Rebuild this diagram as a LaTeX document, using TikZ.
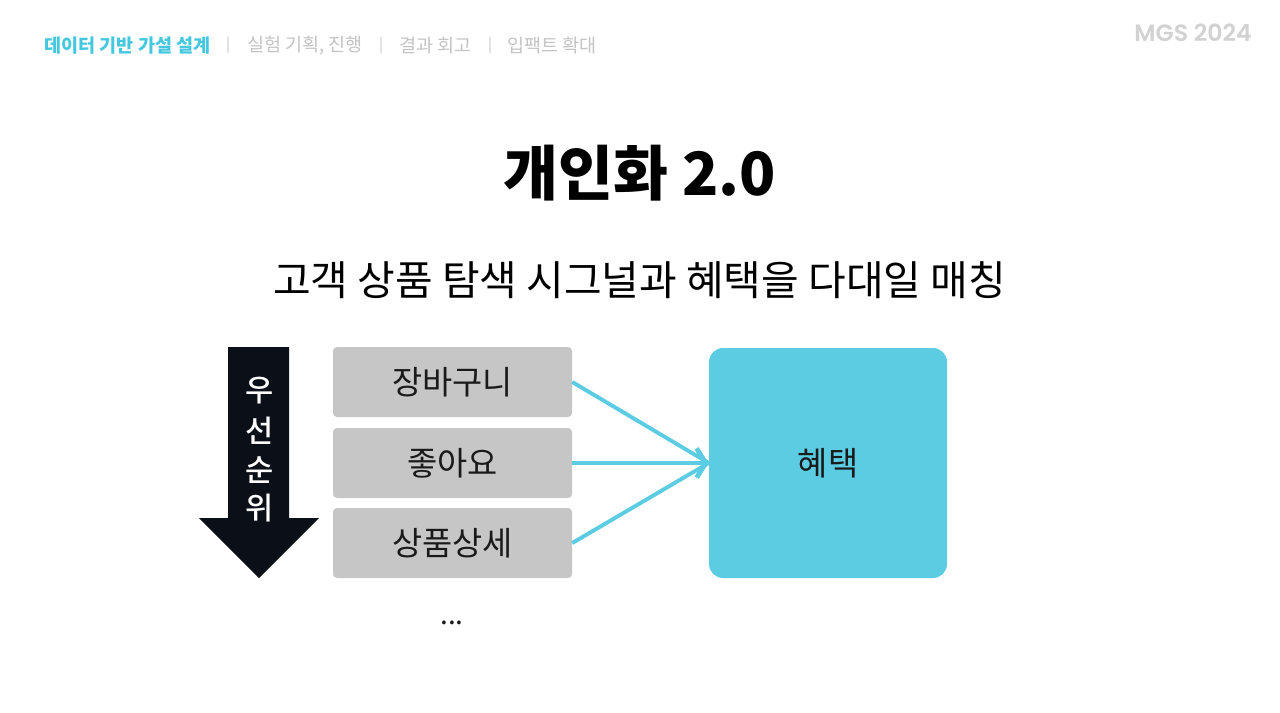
\documentclass[tikz,border=0pt]{standalone}
\usepackage{fontspec}
\setmainfont{Noto Sans CJK KR}
\newfontfamily\logofont{Poppins SemiBold}
\newfontfamily\medfont{Noto Sans CJK KR Medium}
\usetikzlibrary{arrows.meta}
\definecolor{cyanmain}{HTML}{5BCCE2}
\definecolor{cyantext}{HTML}{45C8DF}
\definecolor{greybox}{HTML}{C6C6C6}
\definecolor{greytext}{HTML}{C4C4C4}
\definecolor{logogrey}{HTML}{D2D2D2}
\definecolor{darkarrow}{HTML}{0B0F17}
\definecolor{inktext}{HTML}{1A1A1A}
\tikzset{
  navtext/.style={inner sep=0pt,anchor=west,font=\fontsize{13.9pt}{16pt}\selectfont,text=greytext},
  sepbar/.style={inner sep=0pt,font=\fontsize{11pt}{14pt}\selectfont,text=greytext},
  signal/.style={draw=none,fill=greybox,rounded corners=3pt,minimum width=179.25pt,minimum height=52.5pt,inner sep=0pt,text=inktext,font=\fontsize{24.6pt}{28pt}\selectfont},
  vchar/.style={inner sep=0pt,text=white,font=\medfont\fontsize{23pt}{26pt}\selectfont},
  link/.style={draw=cyanmain,line width=2.9pt},
  linktip/.style={link,-{Straight Barb[length=7pt,width=22pt,line width=3.6pt]}}
}
\begin{document}
\begin{tikzpicture}[x=0.75pt,y=-0.75pt]
\useasboundingbox (0,0) rectangle (1280,713);
\fill[white] (0,0) rectangle (1280,713);
% header
\node[navtext,text=cyantext,font=\fontsize{13.9pt}{16pt}\selectfont\bfseries] (nav1) at (44,45.5) {데이터 기반 가설 설계};
\node[sepbar] (bar1) at (228,45) {|};
\node[navtext] (nav2) at (247,45.5) {실험 기획, 진행};
\node[sepbar] (bar2) at (381,45) {|};
\node[navtext] (nav3) at (399,45.5) {결과 회고};
\node[sepbar] (bar3) at (490,45) {|};
\node[navtext] (nav4) at (507,45.5) {입팩트 확대};
\node[inner sep=0pt,anchor=east,text=logogrey,font=\logofont\fontsize{17.7pt}{20pt}\selectfont] (logo) at (1252,33) {MGS 2024};
% titles
\node[inner sep=0pt,text=black,font=\fontsize{44.8pt}{50pt}\selectfont\bfseries] (title) at (640,173.5) {개인화 2.0};
\node[inner sep=0pt,text=black,font=\fontsize{30.7pt}{36pt}\selectfont] (sub) at (639.5,280) {고객 상품 탐색 시그널과 혜택을 다대일 매칭};
% priority arrow
\fill[darkarrow] (228,347) -- (289,347) -- (289,518) -- (319,518) -- (259,578) -- (199,518) -- (228,518) -- cycle;
\node[vchar] (v1) at (259.5,391) {우};
\node[vchar] (v2) at (259.5,431) {선};
\node[vchar] (v3) at (259.5,470) {순};
\node[vchar] (v4) at (259.5,508) {위};
% boxes
\node[signal] (cart) at (452.5,382) {\raisebox{-1pt}{장바구니}};
\node[signal] (like) at (452.5,463) {\raisebox{-1pt}{좋아요}};
\node[signal] (detail) at (452.5,543) {\raisebox{-1pt}{상품상세}};
\node[draw=none,fill=cyanmain,rounded corners=10.5pt,minimum width=178.5pt,minimum height=172.5pt,inner sep=0pt,text=inktext,font=\fontsize{24.6pt}{28pt}\selectfont] (benefit) at (828,463) {혜택};
\node[inner sep=0pt,text=inktext,font=\fontsize{21pt}{24pt}\selectfont] (dots) at (452,623) {...};
% connectors
\draw[link] (cart.east) -- (benefit.west);
\draw[linktip] (like.east) -- (benefit.west);
\draw[link] (detail.east) -- (benefit.west);
\end{tikzpicture}
\end{document}
